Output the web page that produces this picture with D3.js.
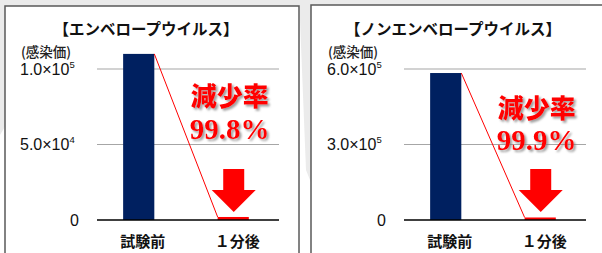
<!DOCTYPE html>
<html><head><meta charset="utf-8">
<script src="https://cdn.jsdelivr.net/npm/d3@7"></script>
<style>
html,body{margin:0;padding:0;background:#fff;}
svg{display:block;}
</style></head>
<body>
<svg id="c" width="602" height="253"></svg>
<script>
// ---- data ----
const categories = ["試験前", "１分後"];
const envelopeValues = [110000, 2000];
const nonEnvelopeValues = [584000, 10000];
const envelopeTicks = [0, 50000, 100000];
const envelopeTickLabels = [["0", ""], ["5.0×10", "4"], ["1.0×10", "5"]];
const nonEnvelopeTicks = [0, 300000, 600000];
const nonEnvelopeTickLabels = [["0", ""], ["3.0×10", "5"], ["6.0×10", "5"]];
const titles = ["【エンベロープウイルス】", "【ノンエンベロープウイルス】"];
const reductionLabels = ["99.8%", "99.9%"];
const unitLabel = "(感染価)";
const reductionWord = "減少率";

const svg = d3.select("#c");
const defs = svg.append("defs");
const f = defs.append("filter").attr("id","sh").attr("x","-20%").attr("y","-20%").attr("width","150%").attr("height","150%");
f.append("feDropShadow").attr("dx",2).attr("dy",2).attr("stdDeviation",1.2).attr("flood-color","#777").attr("flood-opacity",0.7);

// decorative background
const bg = svg.append("g").attr("fill","#ebebeb");
bg.append("rect").attr("x",0).attr("y",0).attr("width",580).attr("height",6);
bg.append("polygon").attr("points","0,0 6,0 6,125 0,135");
bg.append("polygon").attr("points","300,0 312,0 312,185 306,170 300,20");

const panels = [
  {x0:5, y0:6, x1:299, plotL:97, values:envelopeValues, ticks:envelopeTicks, tickLabels:envelopeTickLabels, max:100000, title:titles[0], red:reductionLabels[0], redY:[97,129]},
  {x0:311, y0:5, x1:620, plotL:404, values:nonEnvelopeValues, ticks:nonEnvelopeTicks, tickLabels:nonEnvelopeTickLabels, max:600000, title:titles[1], red:reductionLabels[1], redY:[109,140]}
];

panels.forEach(p => {
  const g = svg.append("g");
  g.append("rect").attr("x",p.x0).attr("y",p.y0).attr("width",p.x1-p.x0).attr("height",300)
    .attr("fill","#fff").attr("stroke","#5a5a5a").attr("stroke-width",1.5);

  const plotR = p.plotL + 182;
  const y = d3.scaleLinear().domain([0,p.max]).range([220,69]);
  const x = d3.scaleBand().domain(categories).range([p.plotL, plotR])
    .paddingInner(0.67).paddingOuter(0.298).align(0.464);

  // gridlines
  g.selectAll(".grid").data(p.ticks.filter(t=>t>0)).join("line")
    .attr("x1",p.plotL).attr("x2",plotR).attr("y1",d=>y(d)).attr("y2",d=>y(d))
    .attr("stroke","#a6a6a6").attr("stroke-width",1.2);

  // tick labels
  p.ticks.forEach((t,i) => {
    const lab = p.tickLabels[i];
    const tx = g.append("text").attr("y", y(t)+5.5)
      .attr("font-family","Liberation Sans, Arial, sans-serif").attr("font-size",16).attr("fill","#111");
    if (lab[1]) {
      tx.attr("x", p.plotL-77).attr("text-anchor","start");
      tx.append("tspan").text(lab[0]);
      tx.append("tspan").attr("font-size",9.5).attr("dy",-7).text(lab[1]);
    } else {
      tx.attr("x", p.plotL-18).attr("text-anchor","end").text(lab[0]);
    }
  });

  // unit
  g.append("text").attr("x",p.plotL-76).attr("y",57).text(unitLabel)
    .attr("font-family","Noto Sans CJK JP").attr("font-size",13.5).attr("font-weight",500).attr("fill","#222");

  // title
  g.append("text").attr("x",p.plotL+49).attr("y",35).attr("text-anchor","middle").text(p.title)
    .attr("font-family","Noto Sans CJK JP").attr("font-size",15.5).attr("font-weight",700).attr("fill","#111");

  // bars
  g.selectAll(".bar").data(p.values).join("rect")
    .attr("x",(d,i)=>x(categories[i])).attr("width",x.bandwidth())
    .attr("y",d=>y(d)).attr("height",d=>y(0)-y(d))
    .attr("fill",(d,i)=>i===0?"#002060":"#ff0000");

  // baseline
  g.append("line").attr("x1",p.plotL).attr("x2",plotR).attr("y1",y(0)).attr("y2",y(0))
    .attr("stroke","#000").attr("stroke-width",1.5);

  // connecting red line
  g.append("line")
    .attr("x1",x(categories[0])+x.bandwidth()).attr("y1",y(p.values[0]))
    .attr("x2",x(categories[1])).attr("y2",y(p.values[1]))
    .attr("stroke","#ff0000").attr("stroke-width",1);

  // category labels
  g.selectAll(".cat").data(categories).join("text")
    .attr("x",d=>x(d)+x.bandwidth()/2+4).attr("y",247).attr("text-anchor","middle").text(d=>d)
    .attr("font-family","Noto Sans CJK JP").attr("font-size",15).attr("font-weight",700).attr("fill","#111");

  // arrow
  const cx = x(categories[1]) + x.bandwidth()/2 + 0.5;
  const base = y(0);
  const arrow = [[cx-10.5,base-51],[cx+10.5,base-51],[cx+10.5,base-30],[cx+22,base-30],[cx,base-8],[cx-22,base-30],[cx-10.5,base-30]];
  g.append("polygon").attr("points",arrow.map(d=>d.join(",")).join(" ")).attr("fill","#ff0000");

  // reduction text
  const tx = cx - 4;
  g.append("text").attr("x",tx).attr("y",p.redY[0]+9).attr("text-anchor","middle").text(reductionWord)
    .attr("font-family","Noto Sans CJK JP").attr("font-size",26).attr("font-weight",900)
    .attr("fill","#ff0000").attr("filter","url(#sh)");
  g.append("text").attr("x",tx).attr("y",p.redY[1]+10).attr("text-anchor","middle").text(p.red)
    .attr("font-family","Liberation Serif, serif").attr("font-size",29).attr("font-weight",700)
    .attr("fill","#ff0000").attr("filter","url(#sh)");
});
</script>
</body></html>
